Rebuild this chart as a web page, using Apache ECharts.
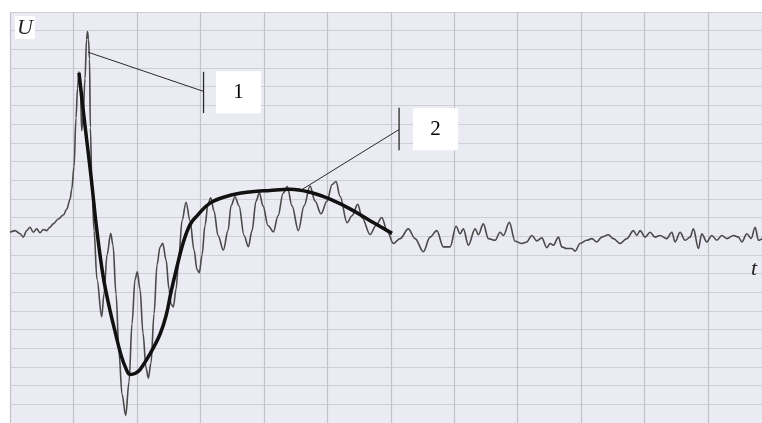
<!DOCTYPE html>
<html>
<head>
<meta charset="utf-8">
<script src="https://cdn.jsdelivr.net/npm/echarts@6/dist/echarts.min.js"></script>
<style>
  html, body { margin: 0; padding: 0; background: #ffffff; }
  #chart { width: 762px; height: 423px; }
</style>
</head>
<body>
<div id="chart"></div>
<script>
// Recorded oscillogram U(t); one grid division = 1 unit on each axis.
const signalT = [
  0.000, 0.079, 0.158, 0.210, 0.263, 0.315, 0.367, 0.421, 0.473, 0.525,
  0.578, 0.630, 0.682, 0.761, 0.840, 0.894, 0.946, 0.972, 1.009, 1.040,
  1.064, 1.087, 1.111, 1.130, 1.150, 1.182, 1.206, 1.221, 1.237, 1.253,
  1.266, 1.292, 1.324, 1.371, 1.445, 1.481, 1.529, 1.587, 1.623, 1.671,
  1.718, 1.765, 1.823, 1.875, 1.923, 1.970, 2.006, 2.049, 2.096, 2.143,
  2.180, 2.222, 2.270, 2.317, 2.364, 2.407, 2.459, 2.506, 2.537, 2.574,
  2.616, 2.663, 2.711, 2.774, 2.837, 2.900, 2.947, 2.983, 3.026, 3.073,
  3.120, 3.163, 3.215, 3.278, 3.362, 3.436, 3.483, 3.546, 3.609, 3.688,
  3.756, 3.814, 3.877, 3.929, 3.987, 4.066, 4.150, 4.224, 4.303, 4.370,
  4.444, 4.544, 4.634, 4.728, 4.807, 4.901, 4.996, 5.075, 5.138, 5.201,
  5.311, 5.390, 5.480, 5.548, 5.674, 5.768, 5.858, 5.942, 6.041, 6.147,
  6.277, 6.383, 6.514, 6.619, 6.725, 6.829, 6.935, 7.029, 7.092, 7.144,
  7.223, 7.329, 7.381, 7.459, 7.538, 7.644, 7.723, 7.775, 7.869, 7.959,
  8.065, 8.143, 8.222, 8.301, 8.380, 8.459, 8.511, 8.563, 8.641, 8.695,
  8.774, 8.853, 8.905, 8.983, 9.089, 9.168, 9.247, 9.325, 9.429, 9.508,
  9.614, 9.720, 9.824, 9.877, 9.929, 10.008, 10.087, 10.165, 10.244, 10.350,
  10.429, 10.481, 10.559, 10.638, 10.717, 10.769, 10.848, 10.901, 10.980, 11.059,
  11.138, 11.216, 11.295, 11.400, 11.479, 11.532, 11.611, 11.679, 11.742, 11.794,
  11.852
];
const signalU = [
  0.21, 0.30, 0.13, -0.05, 0.30, 0.48, 0.21, 0.39, 0.18, 0.36,
  0.30, 0.48, 0.66, 0.92, 1.13, 1.44, 1.97, 2.49, 3.71, 6.33,
  7.91, 8.80, 7.65, 5.65, 6.33, 8.43, 10.53, 10.95, 10.53, 9.48,
  5.81, 2.66, 0.30, -2.32, -4.31, -3.10, -1.01, 0.15, -0.48, -3.10,
  -6.25, -8.45, -9.60, -7.82, -4.68, -2.32, -1.90, -2.84, -5.20, -7.04,
  -7.60, -6.78, -4.15, -1.53, -0.59, -0.38, -1.27, -2.84, -3.63, -3.79,
  -2.84, -1.01, 0.83, 1.82, 0.83, -0.74, -1.79, -1.95, -1.01, 0.57,
  1.72, 2.06, 1.35, 0.04, -0.74, 0.30, 1.62, 2.11, 1.62, 0.04,
  -0.56, 0.30, 1.88, 2.32, 1.62, 0.57, 0.23, 1.09, 2.30, 2.66,
  1.62, 0.30, 1.62, 2.69, 1.88, 1.20, 1.88, 2.77, 2.93, 2.14,
  0.72, 1.09, 1.70, 0.99, 0.09, 0.57, 1.00, 0.30, -0.39, -0.13,
  0.39, -0.13, -0.83, -0.05, 0.30, -0.57, -0.57, 0.53, 0.13, 0.39,
  -0.48, 0.39, 0.08, 0.66, -0.13, -0.22, 0.21, 0.04, 0.74, -0.27,
  -0.39, -0.31, 0.04, -0.25, -0.09, -0.61, -0.39, -0.48, -0.05, -0.57,
  -0.66, -0.66, -0.80, -0.39, -0.22, -0.13, -0.31, -0.05, 0.08, -0.13,
  -0.39, -0.13, 0.30, 0.04, 0.30, -0.05, 0.21, -0.05, 0.04, -0.13,
  0.21, -0.31, 0.21, -0.22, -0.05, 0.39, -0.66, 0.13, -0.31, 0.04,
  -0.22, 0.04, -0.13, 0.04, -0.05, -0.31, 0.13, -0.12, 0.48, -0.22,
  -0.13
];

// Smoothed envelope (curve 2 together with the leading edge)
const fitT = [
  1.087, 1.182, 1.277, 1.371, 1.466, 1.560, 1.655, 1.749, 1.828, 1.891,
  1.970, 2.049, 2.206, 2.364, 2.459, 2.537, 2.616, 2.727, 2.837, 2.947,
  3.152, 3.420, 3.735, 4.098, 4.413, 4.728, 5.043, 5.358, 5.674, 6.020
];
const fitU = [
  8.75, 5.92, 3.19, 0.25, -2.11, -3.73, -5.10, -6.36, -7.09, -7.40,
  -7.35, -7.14, -6.30, -5.25, -4.26, -3.00, -1.85, -0.38, 0.62, 1.09,
  1.77, 2.14, 2.35, 2.45, 2.51, 2.35, 1.98, 1.46, 0.83, 0.15
];

// Callouts: label, point on the curve, where the leader ends, label box centre
const calloutText = ['1', '2'];
const calloutFrom = [[1.229, 9.85], [4.597, 2.49]];
const calloutTo = [[3.050, 7.75], [6.131, 5.71]];
const calloutTick = [[8.80, 6.59], [6.87, 4.60]];
const calloutBox = [[3.601, 7.70], [6.706, 5.73]];

const axisNames = { y: 'U', x: 't' };

const zip = (a, b) => a.map((v, i) => [v, b[i]]);

const chart = echarts.init(document.getElementById('chart'), null, { renderer: 'canvas' });

const calloutSeries = [];
calloutText.forEach((txt, i) => {
  calloutSeries.push({
    type: 'line', data: [calloutFrom[i], calloutTo[i]], symbol: 'none', silent: true,
    lineStyle: { color: '#2a2a2a', width: 1 }, z: 4
  });
  calloutSeries.push({
    type: 'line', data: [[calloutTo[i][0], calloutTick[i][0]], [calloutTo[i][0], calloutTick[i][1]]],
    symbol: 'none', silent: true, lineStyle: { color: '#2a2a2a', width: 1.3 }, z: 4
  });
  calloutSeries.push({
    type: 'scatter', data: [calloutBox[i]], symbol: 'rect', symbolSize: [45, 42], silent: true,
    itemStyle: { color: '#ffffff', opacity: 1 }, z: 5,
    label: {
      show: true, position: 'inside', formatter: txt, color: '#000000',
      fontFamily: 'Liberation Serif', fontSize: 21
    }
  });
});

chart.setOption({
  animation: false,
  backgroundColor: '#ffffff',
  grid: {
    left: 10, top: 12, width: 752, height: 419.5,
    show: true, backgroundColor: '#ebebf4', borderWidth: 0
  },
  xAxis: {
    type: 'value', min: 0, max: 11.85, interval: 1,
    axisLine: { show: false }, axisTick: { show: false }, axisLabel: { show: false },
    splitLine: { show: true, lineStyle: { color: '#c2c2ca', width: 1.2 } }
  },
  yAxis: {
    type: 'value', min: -10, max: 12, interval: 1,
    axisLine: { show: false }, axisTick: { show: false }, axisLabel: { show: false },
    splitLine: { show: true, lineStyle: { color: '#cfcfd8', width: 1.2 } }
  },
  graphic: [
    {
      type: 'text', left: 15, top: 16, z: 10,
      style: {
        text: axisNames.y, fill: '#222', font: 'italic 22px "Liberation Serif"',
        backgroundColor: '#ffffff', padding: [1, 2, 0, 2]
      }
    },
    {
      type: 'text', left: 751, top: 258, z: 10,
      style: { text: axisNames.x, fill: '#222', font: 'italic 22px "Liberation Serif"' }
    }
  ],
  series: [
    {
      type: 'line', data: zip(signalT, signalU), symbol: 'none', smooth: 0.35,
      smoothMonotone: 'x', silent: true,
      lineStyle: { color: '#4a4a4a', width: 1.6 }, z: 2
    },
    {
      type: 'line', data: zip(fitT, fitU), symbol: 'none', smooth: 0.4, silent: true,
      lineStyle: { color: '#111111', width: 3.5 }, z: 3
    }
  ].concat(calloutSeries)
});
</script>
</body>
</html>
